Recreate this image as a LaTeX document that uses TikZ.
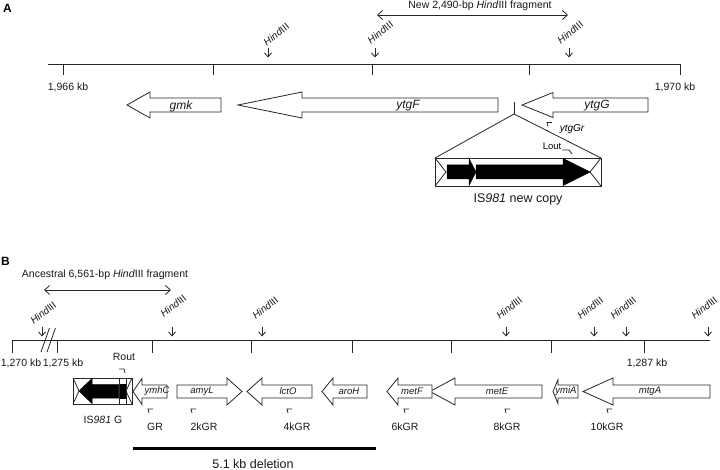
\documentclass[tikz,border=0pt]{standalone}
\usepackage{fontspec}
\setmainfont{Liberation Sans}
\usetikzlibrary{arrows.meta}
\newcommand\garrow[6]{% tip, head base, tail, y centre, head half, shaft half
  \draw[genebox] (#1,#4) -- (#2,#4-#5) -- (#2,#4-#6) -- (#3,#4-#6) -- (#3,#4+#6) -- (#2,#4+#6) -- (#2,#4+#5) -- cycle;}
\newcommand\hindsite[5]{% x, top y, label x, label y, name
  \coordinate (#5t) at (#1,#2);
  \coordinate (#5b) at (#1,#2+9.5);
  \draw[hind] (#5t) -- (#5b);
  \node[hindlbl, anchor=south west, rotate=38] (#5) at (#3,#4) {\textit{Hind}III};}
\newcommand\rprimer[3]{% x, y, name
  \coordinate (#3a) at (#1+5,#2);
  \coordinate (#3b) at (#1,#2);
  \coordinate (#3c) at (#1+1,#2+4);
  \draw[ln] (#3a) -- (#3b) -- (#3c);}
\begin{document}
\begin{tikzpicture}[x=1pt,y=-1pt,
  ln/.style={line width=0.8pt, draw=black!85},
  genebox/.style={line width=0.8pt, draw=black!85, fill=white},
  hind/.style={-{Straight Barb[length=4pt,width=7pt]}, line width=0.8pt, draw=black!85},
  dbl/.style={{Straight Barb[length=5pt,width=9pt]}-{Straight Barb[length=5pt,width=9pt]}, line width=0.8pt, draw=black!85},
  lbl/.style={font=\fontsize{10.5}{12}\selectfont, inner sep=0pt, text=black!90},
  hindlbl/.style={font=\fontsize{10}{12}\selectfont, inner sep=0pt, text=black!90},
  geneA/.style={font=\fontsize{12}{14}\selectfont\itshape, inner sep=0pt, text=black!90},
  geneB/.style={font=\fontsize{9.5}{11}\selectfont\itshape, inner sep=0pt, text=black!90},
  big/.style={font=\fontsize{12.5}{14}\selectfont, inner sep=0pt, text=black!90},
  panel/.style={font=\fontsize{12}{14}\selectfont\bfseries, inner sep=0pt},
  blk/.style={fill=black, draw=black, line width=0.5pt}
]
\useasboundingbox[fill=white] (0,0) rectangle (720,470);

% ================= Panel A =================
\node[panel] (pA) at (7.5,8) {A};

\coordinate (dA1) at (377,15);
\coordinate (dA2) at (568,15);
\draw[dbl] (dA1) -- (dA2);
\node[lbl] (fragA) at (480,5.5) {New 2,490-bp \textit{Hind}III fragment};

\coordinate (rA1) at (48,64);
\coordinate (rA2) at (680,64);
\draw[ln] (rA1) -- (rA2);
\foreach \x in {63,213,372,529,680} \draw[ln] (\x,64) -- (\x,75.5);
\node[lbl] (kb1966) at (68,87) {1,966 kb};
\node[lbl] (kb1970) at (675,87) {1,970 kb};

\hindsite{268}{48}{267}{46.5}{hA1}
\hindsite{375}{48}{371}{44.5}{hA2}
\hindsite{569}{48}{561}{44.5}{hA3}

\garrow{127}{150}{221}{105}{13}{7}
\node[geneA] (gmk) at (181,106) {gmk};
\garrow{238}{302}{498}{105}{13}{7}
\node[geneA] (ytgF) at (408,106) {ytgF};
\garrow{522}{553}{648}{105}{12.5}{7}
\node[geneA] (ytgG) at (597,106) {ytgG};

% insertion site
\coordinate (insT) at (514,102);
\coordinate (insB) at (514,114);
\draw[ln] (insT) -- (insB);
\coordinate (isTL) at (435,158);
\coordinate (isTR) at (601,158);
\draw[ln] (isTL) -- (insB) -- (isTR);

% IS981 new copy box
\draw[genebox] (435,158) rectangle (601,186);
\draw[ln] (435,158) -- (446,172) -- (435,186);
\draw[ln] (601,158) -- (590,172) -- (601,186);
\fill[blk] (447,165) -- (469,165) -- (469,158.5) -- (476,172) -- (469,185.5) -- (469,179) -- (447,179) -- cycle;
\fill[blk] (476,165) -- (563,165) -- (563,158.5) -- (590,172) -- (563,185.5) -- (563,179) -- (476,179) -- cycle;
\node[big] (isnew) at (518,199) {IS\textit{981} new copy};

% primers in A
\rprimer{547}{122.5}{pYtg}
\node[font=\fontsize{10}{12}\selectfont\itshape, inner sep=0pt] (ytgGr) at (572,129) {ytgGr};
\node[font=\fontsize{9.5}{11}\selectfont, inner sep=0pt] (Lout) at (552,146.5) {Lout};
\coordinate (lo1) at (562,150);
\coordinate (lo2) at (569,150);
\coordinate (lo3) at (572,154);
\draw[ln] (lo1) -- (lo2) -- (lo3);

% ================= Panel B =================
\node[panel] (pB) at (5.5,261) {B};

\coordinate (dB1) at (44,290);
\coordinate (dB2) at (171,290);
\draw[dbl] (dB1) -- (dB2);
\node[lbl] (fragB) at (105,275) {Ancestral 6,561-bp \textit{Hind}III fragment};

\coordinate (rB1) at (12,340);
\coordinate (rB2) at (710,340);
\draw[ln] (rB1) -- (rB2);
\foreach \x in {12,57,152,251,352,451,551,644} \draw[ln] (\x,340) -- (\x,352.5);
\draw[ln] (41,352) -- (49.5,328);
\draw[ln] (47,352) -- (55.5,328);
\node[lbl] (kb1270) at (21,363) {1,270 kb};
\node[lbl] (kb1275) at (63,363) {1,275 kb};
\node[lbl] (kb1287) at (647,363) {1,287 kb};

\hindsite{42}{327}{34}{325}{hB1}
\hindsite{172}{327}{164}{318}{hB2}
\hindsite{262}{327}{256}{320}{hB3}
\hindsite{506}{327}{500}{320}{hB4}
\hindsite{594}{327}{581}{320}{hB5}
\hindsite{626}{327}{614}{320}{hB6}
\hindsite{708}{327}{695}{320}{hB7}

% IS981 G
\draw[genebox] (73,378) rectangle (132,404);
\fill[blk] (79,391) -- (92,378.5) -- (92,384.5) -- (118.5,384.5) -- (118.5,398) -- (92,398) -- (92,403.5) -- cycle;
\fill[blk] (120,384.5) rectangle (126,398);
\draw[ln] (73,378) -- (79,391) -- (73,404);
\draw[ln] (132,378) -- (126,391) -- (132,404);
\draw[ln] (119.2,378) -- (119.2,404);
\draw[ln] (126,378) -- (126,404);
\node[lbl] (isG) at (103,420) {IS\textit{981} G};
\node[lbl] (Rout) at (124,357) {Rout};
\coordinate (ro1) at (119,369);
\coordinate (ro2) at (124,369);
\coordinate (ro3) at (125,373);
\draw[ln] (ro1) -- (ro2) -- (ro3);

% genes B
\garrow{133}{142}{167}{391.5}{13}{6.5}
\node[geneB] (ymhC) at (157,391.5) {ymhC};
\garrow{242}{227}{177}{391.5}{13.5}{6.5}
\node[geneB] (amyL) at (202,391.5) {amyL};
\garrow{247}{262}{312}{391.5}{13.5}{6.5}
\node[geneB] (lctO) at (288,391.5) {lctO};
\garrow{322}{333}{367}{391.5}{13.5}{6.5}
\node[geneB] (aroH) at (349,391.5) {aroH};
\garrow{430}{455}{542}{391.5}{13.5}{6.5}
\node[geneB] (metE) at (497,391.5) {metE};
\garrow{387}{398}{432}{391.5}{13.5}{6.5}
\node[geneB] (metF) at (412,391.5) {metF};
\garrow{553}{558}{578}{391.5}{12}{6.5}
\node[geneB] (ymiA) at (566,391.5) {ymiA};
\garrow{583}{613}{710}{391.5}{13.5}{6.5}
\node[geneB] (mtgA) at (650,391.5) {mtgA};

% primers B
\rprimer{148}{409}{pGR}
\node[lbl] (GR) at (155,427) {GR};
\rprimer{191}{409}{p2k}
\node[lbl] (k2) at (204,427) {2kGR};
\rprimer{287}{409}{p4k}
\node[lbl] (k4) at (297,427) {4kGR};
\rprimer{404}{409}{p6k}
\node[lbl] (k6) at (405,427) {6kGR};
\rprimer{505}{409}{p8k}
\node[lbl] (k8) at (507,427) {8kGR};
\rprimer{607}{409}{p10k}
\node[lbl] (k10) at (607,427) {10kGR};

% deletion
\coordinate (del1) at (133,448);
\coordinate (del2) at (376,448);
\draw[line width=3pt] (del1) -- (del2);
\node[big] (dellbl) at (253,464) {5.1 kb deletion};
\end{tikzpicture}
\end{document}
